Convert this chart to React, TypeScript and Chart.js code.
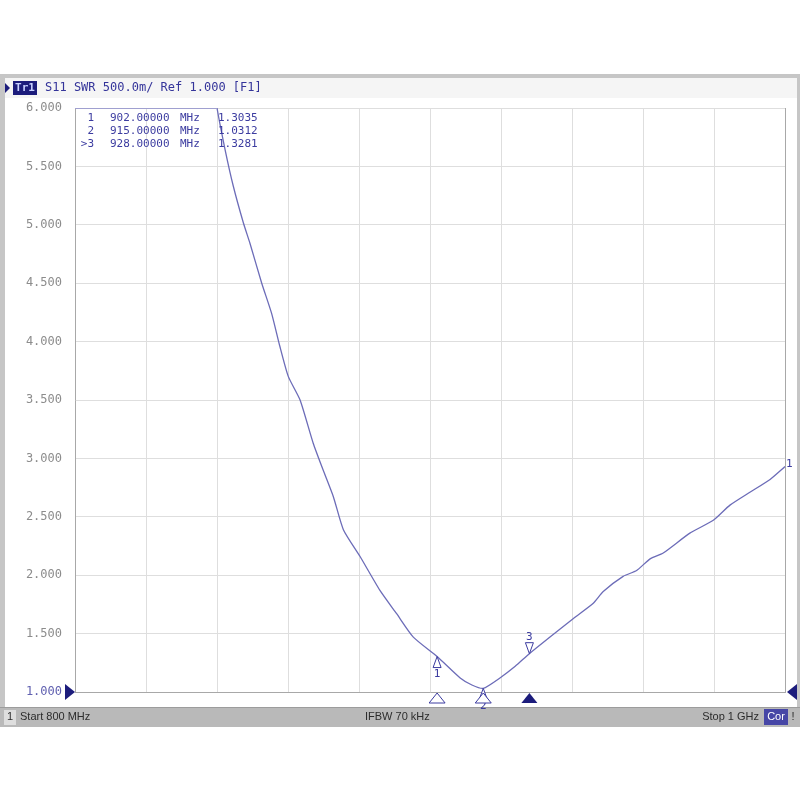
import React, { useEffect, useRef } from "react";
import { Chart, registerables } from "chart.js";

Chart.register(...registerables);

// Trace data: S11 SWR vs frequency (MHz)
const FREQ_MHZ = [838.5, 840, 842.3, 844.6, 847.4, 849.3, 852.6, 855.4, 857.7, 860.1, 863.4, 867.1, 869.9, 872.8, 875.6, 880.3, 885.9, 890.6, 895.3, 902, 908.5, 911.8, 915, 919.7, 924, 928, 933.8, 940.4, 946, 948.8, 954.4, 958.2, 962, 965.7, 973.2, 979.8, 984.5, 990.1, 995.8, 1000];
const SWR = [6.3, 6.0, 5.64, 5.33, 5.02, 4.84, 4.5, 4.24, 3.96, 3.7, 3.5, 3.13, 2.9, 2.67, 2.39, 2.16, 1.87, 1.67, 1.47, 1.3035, 1.12, 1.06, 1.0312, 1.12, 1.22, 1.3281, 1.47, 1.63, 1.76, 1.86, 1.99, 2.04, 2.14, 2.19, 2.36, 2.47, 2.6, 2.71, 2.82, 2.93];

// Markers
const MARKER_IDS = ["1", "2", "3"];
const MARKER_FREQ = [902, 915, 928];
const MARKER_SWR = [1.3035, 1.0312, 1.3281];
const ACTIVE_MARKER = 2;

// Axes
const X_MIN = 800;
const X_MAX = 1000;
const X_STEP = 20;
const Y_MIN = 1;
const Y_MAX = 6;
const Y_STEP = 0.5;

// Texts
const HEADER_TEXT = "S11 SWR 500.0m/ Ref 1.000 [F1]";
const TRACE_TAG = "Tr1";
const START_TEXT = "Start 800 MHz";
const IFBW_TEXT = "IFBW 70 kHz";
const STOP_TEXT = "Stop 1 GHz";

const NAVY = "#1c1c7c";
const TXT = "#3c3ca0";
const MONO = "'DejaVu Sans Mono', monospace";

function tri(ctx: CanvasRenderingContext2D, x: number, tipY: number, w: number, h: number, dir: number, fill: boolean) {
  ctx.beginPath();
  ctx.moveTo(x, tipY);
  ctx.lineTo(x - w / 2, tipY + dir * h);
  ctx.lineTo(x + w / 2, tipY + dir * h);
  ctx.closePath();
  if (fill) {
    ctx.fillStyle = NAVY;
    ctx.fill();
  } else {
    ctx.fillStyle = "#ffffff";
    ctx.fill();
    ctx.strokeStyle = "#3c3ca0";
    ctx.lineWidth = 1;
    ctx.stroke();
  }
}

const framePlugin = {
  id: "frame",
  beforeDraw(chart: any) {
    const ctx = chart.ctx as CanvasRenderingContext2D;
    ctx.save();
    ctx.fillStyle = "#ffffff";
    ctx.fillRect(0, 0, 800, 800);
    // instrument frame
    ctx.fillStyle = "#c6c6c6";
    ctx.fillRect(0, 74, 800, 653);
    ctx.fillStyle = "#f5f5f5";
    ctx.fillRect(5, 78, 792, 20);
    ctx.fillStyle = "#ffffff";
    ctx.fillRect(5, 98, 792, 609);
    // status bar
    ctx.fillStyle = "#b9b9b9";
    ctx.fillRect(0, 707, 800, 20);
    ctx.fillStyle = "#9c9c9c";
    ctx.fillRect(0, 707, 800, 1);
    ctx.fillStyle = "#dedede";
    ctx.fillRect(4, 710, 12, 15);
    ctx.fillStyle = "#4646a6";
    ctx.fillRect(764, 709, 24, 16);

    ctx.textBaseline = "middle";
    ctx.font = "11px 'Liberation Sans', sans-serif";
    ctx.fillStyle = "#2c2c2c";
    ctx.textAlign = "center";
    ctx.fillText("1", 10, 717);
    ctx.textAlign = "left";
    ctx.fillText(START_TEXT, 20, 717);
    ctx.fillText(IFBW_TEXT, 365, 717);
    ctx.textAlign = "right";
    ctx.fillText(STOP_TEXT, 759, 717);
    ctx.textAlign = "center";
    ctx.fillStyle = "#ffffff";
    ctx.fillText("Cor", 776, 717);
    ctx.fillStyle = "#2c2c2c";
    ctx.fillText("!", 793, 717);

    // header
    ctx.fillStyle = NAVY;
    ctx.beginPath();
    ctx.moveTo(5, 83);
    ctx.lineTo(10, 88);
    ctx.lineTo(5, 93);
    ctx.closePath();
    ctx.fill();
    ctx.fillRect(13, 81, 24, 14);
    ctx.font = "bold 11px " + MONO;
    ctx.fillStyle = "#c8d0ff";
    ctx.textAlign = "center";
    ctx.fillText(TRACE_TAG, 25, 88);
    ctx.font = "12px " + MONO;
    ctx.fillStyle = "#34349a";
    ctx.textAlign = "left";
    ctx.fillText(HEADER_TEXT, 45, 88);
    ctx.restore();
  },
  afterDraw(chart: any) {
    const ctx = chart.ctx as CanvasRenderingContext2D;
    const xs = chart.scales.x;
    const ys = chart.scales.y;
    const area = chart.chartArea;
    ctx.save();
    // reference level arrows
    const yRef = ys.getPixelForValue(Y_MIN);
    ctx.fillStyle = NAVY;
    ctx.beginPath();
    ctx.moveTo(area.left, yRef);
    ctx.lineTo(area.left - 10, yRef - 8);
    ctx.lineTo(area.left - 10, yRef + 8);
    ctx.closePath();
    ctx.fill();
    ctx.beginPath();
    ctx.moveTo(area.right + 2, yRef);
    ctx.lineTo(area.right + 12, yRef - 8);
    ctx.lineTo(area.right + 12, yRef + 8);
    ctx.closePath();
    ctx.fill();

    // marker readout box top edge
    ctx.strokeStyle = "#a0a0d0";
    ctx.lineWidth = 1;
    ctx.beginPath();
    ctx.moveTo(area.left, area.top + 0.5);
    ctx.lineTo(217, area.top + 0.5);
    ctx.stroke();

    // readout table
    ctx.font = "11px " + MONO;
    ctx.fillStyle = TXT;
    ctx.textBaseline = "middle";
    for (let i = 0; i < MARKER_IDS.length; i++) {
      const yy = 118 + i * 13;
      ctx.textAlign = "right";
      ctx.fillText((i === ACTIVE_MARKER ? ">" : "") + MARKER_IDS[i], 94, yy);
      ctx.textAlign = "left";
      ctx.fillText(MARKER_FREQ[i].toFixed(5), 110, yy);
      ctx.fillText("MHz", 180, yy);
      ctx.fillText(MARKER_SWR[i].toFixed(4), 218, yy);
    }

    // markers on trace and on axis
    for (let i = 0; i < MARKER_IDS.length; i++) {
      const px = xs.getPixelForValue(MARKER_FREQ[i]);
      const py = ys.getPixelForValue(MARKER_SWR[i]);
      ctx.font = "11px " + MONO;
      ctx.fillStyle = TXT;
      ctx.textAlign = "center";
      if (i === ACTIVE_MARKER) {
        tri(ctx, px, py, 8, 11, -1, false);
        ctx.fillStyle = TXT;
        ctx.fillText(MARKER_IDS[i], px, py - 17);
      } else {
        tri(ctx, px, py, 8, 11, 1, false);
        ctx.fillStyle = TXT;
        ctx.fillText(MARKER_IDS[i], px, py + 18);
      }
      tri(ctx, px, area.bottom + 1, 16, 10, 1, i === ACTIVE_MARKER);
    }

    // trace end label
    const lastX = xs.getPixelForValue(FREQ_MHZ[FREQ_MHZ.length - 1]);
    const lastY = ys.getPixelForValue(SWR[SWR.length - 1]);
    ctx.font = "11px " + MONO;
    ctx.fillStyle = TXT;
    ctx.textAlign = "left";
    ctx.fillText("1", lastX + 1, lastY - 2);
    ctx.restore();
  },
};

export default function App() {
  const ref = useRef<HTMLCanvasElement | null>(null);
  useEffect(() => {
    if (!ref.current) return;
    const points = FREQ_MHZ.map((f, i) => ({ x: f, y: SWR[i] }));
    const chart = new Chart(ref.current, {
      type: "line",
      data: {
        datasets: [
          {
            data: points,
            borderColor: "#6c6cb8",
            borderWidth: 1.3,
            pointRadius: 0,
            tension: 0.2,
            fill: false,
          },
        ],
      },
      options: {
        animation: false,
        responsive: false,
        maintainAspectRatio: false,
        layout: { padding: { top: 108, right: 15, left: 0, bottom: 0 } },
        plugins: { legend: { display: false }, tooltip: { enabled: false }, title: { display: false } },
        scales: {
          x: {
            type: "linear",
            min: X_MIN,
            max: X_MAX,
            ticks: { stepSize: X_STEP, display: false },
            grid: {
              drawTicks: false,
              color: (c: any) => (c.tick && c.tick.value === X_MAX ? "#a8a8a8" : "#dedede"),
              lineWidth: 1,
            },
            border: { display: true, color: "#a8a8a8" },
            afterFit: (s: any) => {
              s.height = 108;
            },
          },
          y: {
            type: "linear",
            min: Y_MIN,
            max: Y_MAX,
            ticks: {
              stepSize: Y_STEP,
              padding: 13,
              font: { family: "'DejaVu Sans Mono', monospace", size: 12 },
              color: (c: any) => (c.tick && c.tick.value === Y_MIN ? "#6060b0" : "#8c8c8c"),
              callback: (v: any) => Number(v).toFixed(3),
            },
            grid: { drawTicks: false, color: "#dedede", lineWidth: 1 },
            border: { display: true, color: "#a8a8a8" },
            afterFit: (s: any) => {
              s.width = 75;
            },
          },
        },
      },
      plugins: [framePlugin],
    });
    return () => chart.destroy();
  }, []);
  return (
    <div style={{ position: "fixed", left: 0, top: 0, width: 800, height: 800 }}>
      <canvas ref={ref} width={800} height={800} />
    </div>
  );
}
